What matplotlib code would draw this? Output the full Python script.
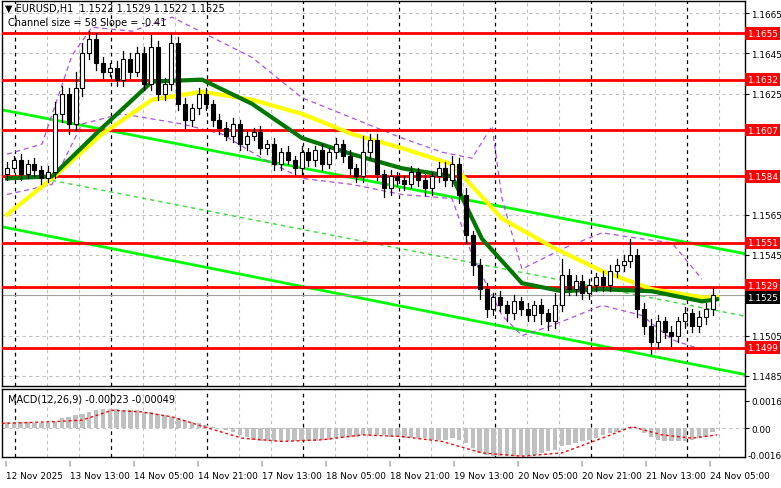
import matplotlib.pyplot as plt
from matplotlib.patches import Rectangle

# candle closes (H1 chart, sampled), first open
first_open = 1.1585
closes = [1.1588, 1.1592, 1.1585, 1.1590, 1.1587, 1.1583, 1.1586, 1.1615, 1.1625, 1.1610,
          1.1628, 1.1645, 1.1652, 1.1640, 1.1636, 1.1638, 1.1632, 1.1642, 1.1636, 1.1645,
          1.1630, 1.1648, 1.1625, 1.1630, 1.1650, 1.1620, 1.1612, 1.1618, 1.1625, 1.1620,
          1.1612, 1.1608, 1.1604, 1.1610, 1.1600, 1.1604, 1.1606, 1.1598, 1.1600, 1.1590,
          1.1596, 1.1592, 1.1588, 1.1596, 1.1592, 1.1597, 1.1590, 1.1596, 1.1600, 1.1594,
          1.1588, 1.1584, 1.1596, 1.1602, 1.1585, 1.1578, 1.1584, 1.1582, 1.1580, 1.1586,
          1.1582, 1.1578, 1.1584, 1.1588, 1.1582, 1.1590, 1.1575, 1.1555, 1.1540, 1.1528,
          1.1518, 1.1524, 1.1520, 1.1516, 1.1522, 1.1518, 1.1515, 1.1520, 1.1516, 1.1512,
          1.1520, 1.1535, 1.1528, 1.1532, 1.1526, 1.1530, 1.1534, 1.1530, 1.1537, 1.1540,
          1.1542, 1.1545, 1.1518, 1.1510, 1.1502, 1.1512, 1.1507, 1.1505, 1.1512, 1.1516,
          1.1510, 1.1514, 1.1518, 1.1525]
# wick extensions in pips (upper, lower)
wick_up = [3, 2, 3, 2, 3, 2, 3, 6, 4, 3, 8, 5, 4, 3, 3, 2, 3, 4, 3, 3,
           3, 6, 3, 3, 5, 3, 3, 2, 3, 3, 2, 3, 3, 3, 2, 3, 2, 3, 2, 3,
           2, 3, 2, 3, 2, 2, 3, 2, 3, 2, 3, 2, 8, 3, 3, 2, 3, 2, 2, 3,
           2, 3, 2, 3, 3, 4, 3, 3, 2, 3, 3, 2, 3, 2, 3, 2, 3, 2, 3, 2,
           6, 8, 3, 3, 3, 3, 2, 3, 3, 3, 3, 8, 3, 3, 3, 3, 2, 3, 2, 3,
           2, 3, 3, 4]
wick_dn = [3, 2, 3, 2, 3, 3, 2, 3, 4, 5, 3, 4, 3, 3, 3, 2, 3, 3, 3, 2,
           3, 3, 3, 3, 3, 3, 4, 3, 3, 3, 3, 3, 2, 3, 3, 3, 2, 3, 3, 3,
           3, 2, 3, 3, 3, 3, 3, 2, 3, 3, 3, 3, 3, 3, 3, 4, 3, 3, 3, 2,
           3, 3, 3, 3, 3, 3, 4, 4, 5, 5, 4, 3, 3, 4, 3, 3, 3, 3, 5, 4,
           3, 3, 3, 3, 3, 3, 3, 3, 3, 3, 3, 3, 4, 4, 6, 3, 3, 5, 3, 3,
           3, 3, 3, 3]

# moving averages: (pixel x, price)
ma_fast = [(5, 1.1583), (50, 1.1584), (100, 1.1608), (150, 1.1631), (200, 1.1632),
           (250, 1.1620), (300, 1.1603), (350, 1.1595), (400, 1.1588), (450, 1.1584),
           (480, 1.1553), (520, 1.1531), (560, 1.1527), (600, 1.1528), (650, 1.1527),
           (700, 1.1522), (715, 1.1523)]
ma_slow = [(5, 1.1565), (50, 1.1583), (100, 1.1605), (150, 1.1622), (200, 1.1626),
           (250, 1.1622), (300, 1.1615), (350, 1.1605), (400, 1.1598), (450, 1.1590),
           (500, 1.1563), (550, 1.1549), (600, 1.1537), (650, 1.1528), (700, 1.1524),
           (715, 1.1524)]
env_up = [(5, 1.1595), (40, 1.1600), (70, 1.1644), (90, 1.1658), (130, 1.1656), (170, 1.1663),
          (210, 1.1653), (250, 1.1643), (300, 1.1623), (350, 1.1613), (400, 1.1603), (440, 1.1596),
          (470, 1.1593), (490, 1.1609), (500, 1.1573), (520, 1.1538), (560, 1.1548), (600, 1.1556),
          (640, 1.1553), (670, 1.1551), (700, 1.1533)]
env_dn = [(5, 1.1575), (50, 1.1580), (80, 1.1610), (120, 1.1615), (180, 1.1610), (220, 1.1605),
          (260, 1.1593), (300, 1.1583), (350, 1.1580), (400, 1.1575), (450, 1.1573), (470, 1.1545),
          (500, 1.1515), (520, 1.1505), (550, 1.1510), (600, 1.1520), (640, 1.1515), (670, 1.1503),
          (700, 1.1498)]
channel_up = [(0, 1.1617), (760, 1.1544)]
channel_mid = [(50, 1.1582), (760, 1.1513)]
channel_dn = [(0, 1.1559), (760, 1.1484)]

levels = [1.1655, 1.1632, 1.1607, 1.1584, 1.1551, 1.1529, 1.1499]
last_price = 1.1525
price_ticks = [1.1665, 1.1645, 1.1625, 1.1565, 1.1545, 1.1505, 1.1485]

macd_hist = [4, 4, 4, 4, 3, 3, 3, 4, 6, 7, 8, 9, 10, 11, 12, 12, 12, 11, 11, 11,
             10, 10, 9, 8, 7, 6, 5, 4, 3, 2, 1, 0, -1, -2, -4, -5, -7, -8, -8, -8,
             -8, -8, -8, -8, -8, -8, -7, -7, -6, -6, -5, -5, -4, -4, -4, -4, -5, -5, -6, -6,
             -6, -6, -7, -7, -7, -6, -7, -9, -12, -15, -16, -17, -17, -17, -17, -17, -16, -16, -15, -14,
             -13, -11, -10, -9, -8, -7, -6, -4, -3, -2, -1, 1, 0, -3, -5, -7, -8, -8, -8, -8,
             -7, -6, -5, -2]
macd_signal = [(0, 0.0003), (50, 0.0004), (80, 0.0005), (110, 0.0011), (140, 0.0010),
               (170, 0.0007), (207, 0.0000), (240, -0.0006), (280, -0.0008), (320, -0.0007),
               (360, -0.0004), (400, -0.0005), (440, -0.0008), (480, -0.0015), (520, -0.0017),
               (560, -0.0015), (600, -0.0006), (630, 0.0001), (660, -0.0004), (690, -0.0006),
               (715, -0.0004)]
time_labels = ['12 Nov 2025', '13 Nov 13:00', '14 Nov 05:00', '14 Nov 21:00', '17 Nov 13:00',
               '18 Nov 05:00', '18 Nov 21:00', '19 Nov 13:00', '20 Nov 05:00', '20 Nov 21:00',
               '21 Nov 13:00', '24 Nov 05:00']

FS = 6.4
W, H = 781, 489
fig = plt.figure(figsize=(W / 100, H / 100), dpi=100)
ax = fig.add_axes([2 / W, (H - 387) / H, 743 / W, 385 / H])
axm = fig.add_axes([2 / W, (H - 458) / H, 743 / W, 68 / H])
XMAX = 743

for a in (ax, axm):
    a.set_xlim(0, XMAX)
    for s in a.spines.values():
        s.set_linewidth(1.0)
    a.tick_params(axis='x', bottom=False, labelbottom=False)
    a.yaxis.tick_right()
    a.tick_params(axis='y', length=3, labelsize=FS, pad=1.5)
    for gx in range(13, XMAX, 32):
        if (gx - 13) % 96 == 0:
            a.axvline(gx, color='black', ls=(0, (3, 3)), lw=0.9, zorder=1)
        else:
            a.axvline(gx, color='#c0c0c0', ls=(0, (3, 3)), lw=0.8, zorder=0)

ax.set_ylim(1.1480, 1.1671)
ax.set_yticks(price_ticks)
ax.set_yticklabels([f'{p:.4f}' for p in price_ticks])
for p in price_ticks:
    ax.axhline(p, color='#c0c0c0', ls=(0, (3, 3)), lw=0.8, zorder=0)

def xy(pts):
    return [p[0] for p in pts], [p[1] for p in pts]

# channel
for pts, st in ((channel_up, '-'), (channel_dn, '-'), (channel_mid, (0, (3, 3)))):
    ax.plot(*xy(pts), color='#00ff00' if st == '-' else '#33dd33', lw=2 if st == '-' else 1, ls=st, zorder=2)
for pts in (env_up, env_dn):
    ax.plot(*xy(pts), color='#b050e0', lw=0.9, ls=(0, (4, 3)), zorder=2)

for lv in levels:
    ax.axhline(lv, color='#ff0000', lw=2, zorder=3)

ax.plot(*xy(ma_slow), color='#ffff00', lw=3, zorder=4)
ax.plot(*xy(ma_fast), color='#007700', lw=3, zorder=4)

# candles
xs = [5 + 6.85 * i for i in range(len(closes))]
o = first_open
for x, c, wu, wd in zip(xs, closes, wick_up, wick_dn):
    top, bot = max(o, c), min(o, c)
    ax.plot([x, x], [bot - wd * 1e-4, top + wu * 1e-4], color='black', lw=0.9, zorder=5)
    body = max(top - bot, 0.00004)
    ax.add_patch(Rectangle((x - 2, bot), 4, body, facecolor='white' if c >= o else 'black',
                           edgecolor='black', lw=0.8, zorder=6))
    o = c

ax.axhline(last_price, color='#a0a0a0', lw=0.8, zorder=2)

# right-side price boxes
for lv in levels:
    ax.text(1.003, lv + (0.0001 if lv == 1.1529 else 0), f'{lv:.4f}', transform=ax.get_yaxis_transform(),
            va='center', ha='left', fontsize=FS, color='white',
            bbox=dict(boxstyle='square,pad=0.2', fc='#ff0000', ec='none'), clip_on=False)
ax.text(1.003, last_price - 0.0001, f'{last_price:.4f}', transform=ax.get_yaxis_transform(), va='center',
        ha='left', fontsize=FS, color='white',
        bbox=dict(boxstyle='square,pad=0.2', fc='black', ec='none'), clip_on=False)

ax.text(0.004, 0.995, '\u25bc EURUSD,H1  1.1522 1.1529 1.1522 1.1525', transform=ax.transAxes,
        va='top', fontsize=7)
ax.text(0.008, 0.958, 'Channel size = 58 Slope = -0.41', transform=ax.transAxes, va='top', fontsize=7)

# MACD
axm.set_ylim(-0.00175, 0.0024)
axm.set_yticks([0.00167, 0.0])
axm.set_yticklabels(['0.00167', '0.00'])
axm.text(1.003, -0.00167, '-0.00167', transform=axm.get_yaxis_transform(), va='center', ha='left',
         fontsize=FS, clip_on=False)
axm.axhline(0, color='#c0c0c0', ls=(0, (3, 3)), lw=0.8, zorder=0)
axm.bar(xs, [h * 1e-4 for h in macd_hist], width=4.5, color='#c0c0c0', zorder=2)
axm.plot(*xy(macd_signal), color='#ff0000', lw=1, ls=(0, (2, 2)), zorder=3)
axm.text(0.008, 0.93, 'MACD(12,26,9) -0.00023 -0.00049', transform=axm.transAxes, va='top', fontsize=7)

for k, lab in enumerate(time_labels):
    x = 3 + 64 * k
    fig.text((2 + x) / W, (H - 463) / H, '|', fontsize=4, ha='center', va='center')
    fig.text((3 + x) / W, (H - 477) / H, lab, fontsize=FS, ha='left', va='center')

fig.savefig('out.png', dpi=100)
